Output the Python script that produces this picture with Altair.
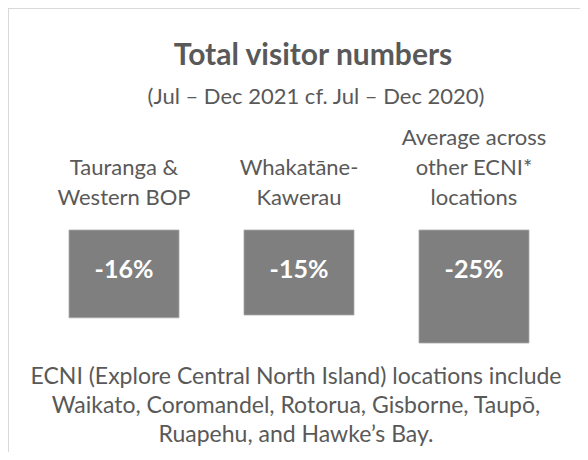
import altair as alt
import pandas as pd

# ---- data -------------------------------------------------------------
TITLE = "Total visitor numbers"
SUBTITLE = "(Jul – Dec 2021 cf. Jul – Dec 2020)"
categories = ["Tauranga & Western BOP", "Whakatāne-Kawerau",
              "Average across other ECNI* locations"]
label_lines = [["Tauranga &", "Western BOP"],
               ["Whakatāne-", "Kawerau"],
               ["Average across", "other ECNI*", "locations"]]
changes = [-16, -15, -25]
value_labels = ["-16%", "-15%", "-25%"]
footnote = ["ECNI (Explore Central North Island) locations include",
            "Waikato, Coromandel, Rotorua, Gisborne, Taupō,",
            "Ruapehu, and Hawke’s Bay."]

# ---- layout -----------------------------------------------------------
W, H = 572, 444
FONT = "Lato"
GREY_TXT = "#595959"
BOX = "#7f7f7f"
BORDER = "#d9d9d9"

df = pd.DataFrame({"cat": categories, "change": changes, "pct": value_labels})

# one row per label line, counted from the bottom line of each label
rows = []
for cat, lines in zip(categories, label_lines):
    n = len(lines)
    for i, line in enumerate(lines):
        rows.append({"cat": cat, "line": line, "k": n - 1 - i})
ldf = pd.DataFrame(rows)

x_enc = alt.X("cat:N", sort=categories, axis=None,
              scale=alt.Scale(domain=categories, range=[0, 582],
                              paddingInner=0.3714, paddingOuter=0.3486))

bars = alt.Chart(df).mark_rect(color=BOX, stroke="#a9a9a9", strokeWidth=0.8).encode(
    x=x_enc,
    y=alt.Y("change:Q", axis=None, stack=None,
            scale=alt.Scale(domain=[0, -30], range=[265, 349])),
    y2=alt.value(222),
)

pct = alt.Chart(df).mark_text(font=FONT, fontWeight="bold", fontSize=25, color="white",
                              baseline="alphabetic", align="center").encode(
    x=x_enc, y=alt.value(270), text="pct:N")

labels = alt.Chart(ldf).mark_text(font=FONT, fontSize=22, color=GREY_TXT,
                                  baseline="alphabetic", align="center").encode(
    x=x_enc,
    y=alt.Y("k:Q", axis=None, scale=alt.Scale(domain=[0, 2], range=[197, 137])),
    text="line:N")

tdf = pd.DataFrame({"t": [TITLE]})
title = alt.Chart(tdf).mark_text(font=FONT, fontWeight="bold", fontSize=30,
                                 color=GREY_TXT, align="center",
                                 baseline="alphabetic").encode(
    x=alt.value(305), y=alt.value(57), text="t:N")

sdf = pd.DataFrame({"t": [SUBTITLE]})
subtitle = alt.Chart(sdf).mark_text(font=FONT, fontSize=22, color=GREY_TXT,
                                    align="center", baseline="alphabetic").encode(
    x=alt.value(308), y=alt.value(96), text="t:N")

fdf = pd.DataFrame({"t": [footnote]})
foot = alt.Chart(fdf).mark_text(font=FONT, fontSize=23, color=GREY_TXT,
                                align="center", baseline="alphabetic",
                                lineHeight=29).encode(
    x=alt.value(288), y=alt.value(376), text="t")

left_border = alt.Chart(tdf).mark_rule(color=BORDER, strokeWidth=2).encode(
    x=alt.value(0), y=alt.value(0), y2=alt.value(H))
top_border = alt.Chart(tdf).mark_rule(color=BORDER, strokeWidth=2).encode(
    x=alt.value(0), x2=alt.value(W), y=alt.value(0))

chart = alt.layer(left_border, top_border, bars, pct, labels, title, subtitle, foot).properties(
    width=W, height=H, padding=0,
    autosize=alt.AutoSizeParams(type="none"),
).resolve_scale(y="independent").configure_view(stroke=None)

chart.save("out.html", embed_options={"renderer": "svg", "actions": False})
